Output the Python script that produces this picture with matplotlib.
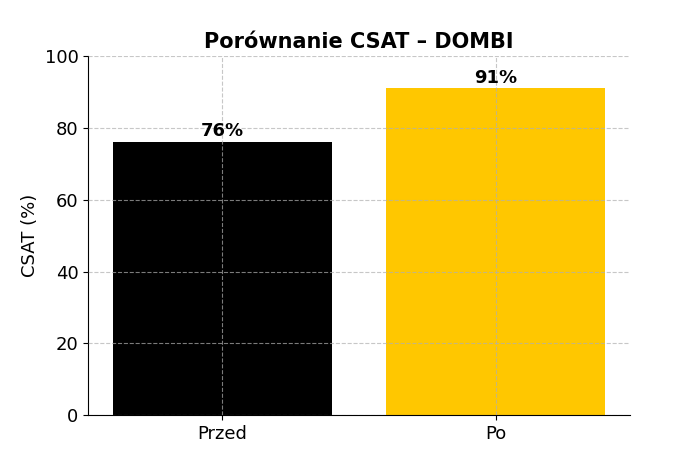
import matplotlib
matplotlib.use("Agg")
import matplotlib.pyplot as plt

categories = ["Przed", "Po"]
values = [76, 91]
colors = ["#000000", "#FFC700"]

fig = plt.figure(figsize=(7, 4.67), dpi=100)
ax = fig.add_axes([0.126, 0.111, 0.774, 0.769])
bars = ax.bar(categories, values, color=colors, width=0.8)
for b, v in zip(bars, values):
    ax.text(b.get_x() + b.get_width() / 2, v + 0.5, f"{v}%", ha="center", va="bottom",
            fontsize=13, fontweight="bold")
ax.set_ylim(0, 100)
ax.set_ylabel("CSAT (%)", fontsize=13)
ax.set_title("Porównanie CSAT – DOMBI", fontsize=15, fontweight="bold")
ax.tick_params(labelsize=13)
ax.grid(True, linestyle="--", color="#b0b0b0", alpha=0.7)
ax.set_axisbelow(False)
for s in ["top", "right"]:
    ax.spines[s].set_visible(False)
fig.savefig("out.png", dpi=100)
